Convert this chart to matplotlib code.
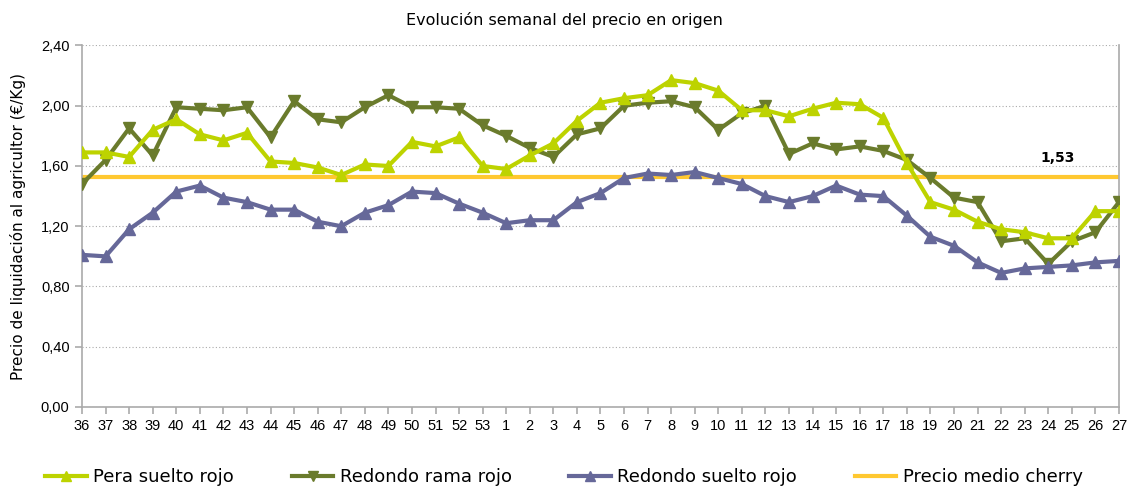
import matplotlib.pyplot as plt
from matplotlib.ticker import FuncFormatter

weeks = [36, 37, 38, 39, 40, 41, 42, 43, 44, 45, 46, 47, 48, 49, 50, 51, 52, 53,
         1, 2, 3, 4, 5, 6, 7, 8, 9, 10, 11, 12, 13, 14, 15, 16, 17, 18, 19, 20,
         21, 22, 23, 24, 25, 26, 27]

pera_suelto = [1.69, 1.69, 1.66, 1.84, 1.91, 1.81, 1.77, 1.82, 1.63, 1.62, 1.59, 1.54,
               1.61, 1.60, 1.76, 1.73, 1.79, 1.60, 1.58, 1.67, 1.75, 1.90, 2.02, 2.05,
               2.07, 2.17, 2.15, 2.10, 1.97, 1.97, 1.93, 1.98, 2.02, 2.01, 1.92, 1.62,
               1.36, 1.31, 1.23, 1.18, 1.16, 1.12, 1.12, 1.30, 1.30]

redondo_rama = [1.48, 1.64, 1.85, 1.67, 1.99, 1.98, 1.97, 1.99, 1.79, 2.03, 1.91, 1.89,
                1.99, 2.07, 1.99, 1.99, 1.98, 1.87, 1.80, 1.72, 1.66, 1.81, 1.85, 2.00,
                2.02, 2.03, 1.99, 1.84, 1.95, 2.00, 1.68, 1.75, 1.71, 1.73, 1.70, 1.64,
                1.52, 1.39, 1.36, 1.10, 1.12, 0.95, 1.10, 1.16, 1.36]

redondo_suelto = [1.01, 1.00, 1.18, 1.29, 1.43, 1.47, 1.39, 1.36, 1.31, 1.31, 1.23, 1.20,
                  1.29, 1.34, 1.43, 1.42, 1.35, 1.29, 1.22, 1.24, 1.24, 1.36, 1.42, 1.52,
                  1.55, 1.54, 1.56, 1.52, 1.48, 1.40, 1.36, 1.40, 1.47, 1.41, 1.40, 1.27,
                  1.13, 1.07, 0.96, 0.89, 0.92, 0.93, 0.94, 0.96, 0.97]

precio_cherry = 1.53

x = list(range(len(weeks)))

fig = plt.figure(figsize=(11.28, 4.87), dpi=100)
ax = fig.add_axes([0.0727, 0.1643, 0.9193, 0.7423])

ax.plot(x, pera_suelto, color="#BDD300", lw=3, marker="^", ms=9,
        label="Pera suelto rojo", zorder=4)
ax.plot(x, redondo_rama, color="#6A7B2C", lw=3, marker="v", ms=9,
        label="Redondo rama rojo", zorder=3)
ax.plot(x, redondo_suelto, color="#666899", lw=3, marker="^", ms=9,
        label="Redondo suelto rojo", zorder=3)
ax.plot(x, [precio_cherry] * len(x), color="#FFC830", lw=3,
        label="Precio medio cherry", zorder=2)

ax.text(41.4, 1.655, "1,53", ha="center", va="center",
        fontsize=10, fontweight="bold")

ax.set_xlim(0, len(x) - 1)
ax.set_ylim(0, 2.4)
ax.set_yticks([0, 0.4, 0.8, 1.2, 1.6, 2.0, 2.4])
ax.yaxis.set_major_formatter(FuncFormatter(lambda v, p: f"{v:.2f}".replace(".", ",")))
ax.set_xticks(x)
ax.set_xticklabels([str(w) for w in weeks])
ax.tick_params(axis="both", labelsize=10, color="#AAAAAA", length=5, width=1.2)
ax.tick_params(axis="y", pad=4)
for lbl in ax.get_xticklabels() + ax.get_yticklabels():
    lbl.set_family("Liberation Sans")
    lbl.set_fontsize(10.5)

ax.grid(axis="y", linestyle=(0, (1, 2)), color="#AAAAAA", lw=0.8)
ax.set_axisbelow(True)
for s in ["left", "right", "bottom"]:
    ax.spines[s].set_color("#AAAAAA")
    ax.spines[s].set_linewidth(1.2)
ax.spines["top"].set_visible(False)

ax.set_ylabel("Precio de liquidación al agricultor (€/Kg)", fontsize=11)
ax.yaxis.set_label_coords(-0.054, 0.5)
fig.text(0.5, 0.959, "Evolución semanal del precio en origen", ha="center",
         va="center", fontsize=11.5)

fig.legend(loc="lower center", ncol=4, frameon=False, fontsize=13,
           bbox_to_anchor=(0.5, -0.032), columnspacing=3.2, handlelength=2.3,
           handletextpad=0.35, markerscale=0.8)

fig.savefig("out.png", dpi=100)
